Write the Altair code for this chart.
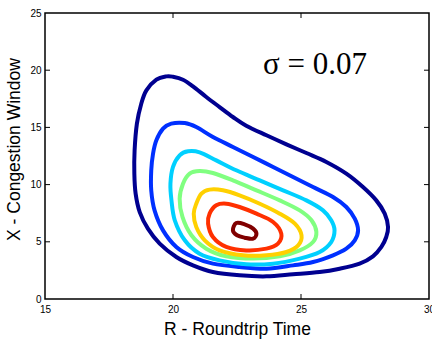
import altair as alt
import pandas as pd

levels = ["L1", "L2", "L3", "L4", "L5", "L6", "L7"]
colors = ["#000090", "#0030FF", "#00D0FF", "#80FF80", "#FFD000", "#FF3000", "#800000"]

c1_x = [19.35, 19.74, 20.0, 20.39, 20.78, 21.30, 21.82, 22.34, 22.86, 23.65, 24.43, 25.21, 25.99, 26.77, 27.42, 27.94, 28.27, 28.40, 28.33, 28.14, 27.81, 27.29, 26.51, 25.73, 24.69, 23.65, 22.60, 21.56, 20.78, 20.13, 19.48, 19.02, 18.70, 18.54, 18.49, 18.50, 18.59, 18.76, 18.96]
c1_y = [19.17, 19.46, 19.43, 19.17, 18.59, 17.66, 16.78, 15.91, 15.15, 14.31, 13.52, 12.76, 11.98, 10.96, 9.79, 8.62, 7.46, 6.29, 5.42, 4.55, 3.73, 3.09, 2.65, 2.36, 2.16, 1.98, 2.07, 2.36, 2.94, 3.67, 4.84, 6.15, 7.60, 9.21, 10.96, 13.0, 15.33, 17.07, 18.24]

c2_x = [19.35, 19.61, 19.93, 20.46, 20.91, 21.56, 22.34, 23.13, 23.91, 24.69, 25.47, 26.25, 26.77, 27.10, 27.23, 27.10, 26.77, 26.25, 25.47, 24.69, 23.65, 22.60, 21.56, 20.78, 20.13, 19.61, 19.28, 19.15, 19.15, 19.22]
c2_y = [13.87, 14.89, 15.33, 15.38, 15.03, 14.16, 13.29, 12.41, 11.54, 10.66, 9.79, 8.92, 8.04, 7.02, 6.0, 5.13, 4.40, 3.82, 3.23, 2.94, 2.65, 2.80, 3.09, 3.67, 4.55, 6.0, 7.75, 9.50, 11.25, 12.70]

c3_x = [20.0, 20.26, 20.59, 21.04, 21.69, 22.47, 23.39, 24.30, 25.21, 25.86, 26.18, 26.31, 26.18, 25.73, 24.95, 23.91, 22.86, 21.82, 21.04, 20.46, 20.07, 19.94, 19.90]
c3_y = [11.54, 12.56, 12.91, 12.82, 12.12, 11.25, 10.37, 9.50, 8.62, 7.75, 6.88, 6.0, 4.98, 4.11, 3.53, 3.09, 3.03, 3.38, 3.96, 5.13, 6.88, 8.62, 10.08]

c4_x = [20.39, 20.65, 21.04, 21.56, 22.34, 23.26, 24.17, 24.95, 25.41, 25.60, 25.47, 24.95, 24.17, 23.13, 22.08, 21.30, 20.72, 20.37, 20.26]
c4_y = [10.08, 10.96, 11.19, 11.01, 10.37, 9.50, 8.62, 7.75, 6.88, 5.86, 4.98, 4.25, 3.73, 3.53, 3.73, 4.40, 5.57, 7.17, 8.77]

c5_x = [20.91, 21.11, 21.43, 21.95, 22.60, 23.39, 24.17, 24.76, 25.02, 24.89, 24.43, 23.65, 22.73, 21.82, 21.24, 20.91, 20.81]
c5_y = [8.33, 9.21, 9.56, 9.50, 9.06, 8.33, 7.46, 6.59, 5.57, 4.69, 4.11, 3.82, 3.82, 4.25, 5.13, 6.29, 7.46]

c6_x = [21.43, 21.69, 22.08, 22.60, 23.26, 23.91, 24.23, 24.10, 23.65, 22.86, 22.08, 21.56, 21.37]
c6_y = [7.46, 8.19, 8.33, 8.04, 7.46, 6.73, 5.71, 4.84, 4.40, 4.25, 4.55, 5.42, 6.59]

c7_x = [22.34, 22.47, 22.80, 23.13, 23.26, 23.13, 22.80, 22.50]
c7_y = [6.0, 6.64, 6.53, 6.15, 5.71, 5.27, 5.36, 5.57]

x_ticks = [15, 20, 25, 30]
y_ticks = [0, 5, 10, 15, 20, 25]

contours = [(c1_x, c1_y), (c2_x, c2_y), (c3_x, c3_y), (c4_x, c4_y),
            (c5_x, c5_y), (c6_x, c6_y), (c7_x, c7_y)]
rows = []
for lev, (xs, ys) in zip(levels, contours):
    for i, (xv, yv) in enumerate(zip(xs, ys)):
        rows.append({"R": xv, "X": yv, "level": lev, "i": i})
df = pd.DataFrame(rows)

W, H = 384, 286

xscale = alt.Scale(domain=[15, 30], nice=False, zero=False)
yscale = alt.Scale(domain=[0, 25], nice=False, zero=False)

lines = alt.Chart(df).mark_line(
    interpolate="cardinal-closed", strokeWidth=4, clip=True
).encode(
    x=alt.X("R:Q", scale=xscale, title="R - Roundtrip Time",
            axis=alt.Axis(values=x_ticks, ticks=False, grid=False, domain=False,
                          labelFontSize=10, labelPadding=5, labelFont="Liberation Sans",
                          labelColor="black", titleFont="Liberation Sans", titleFontSize=17.5,
                          titleFontWeight="normal", titleColor="black", titlePadding=6,
                          labelFlush=False)),
    y=alt.Y("X:Q", scale=yscale, title="X - Congestion Window",
            axis=alt.Axis(values=y_ticks, ticks=False, grid=False, domain=False,
                          labelFontSize=10, labelPadding=4, labelFont="Liberation Sans",
                          labelColor="black", titleFont="Liberation Sans", titleFontSize=17.5,
                          titleFontWeight="normal", titleColor="black", titlePadding=6,
                          labelFlush=False, titleY=136)),
    color=alt.Color("level:N", scale=alt.Scale(domain=levels, range=colors), legend=None),
    order="i:Q",
    detail="level:N",
)

xt = pd.DataFrame({"t": x_ticks[1:-1]})
yt = pd.DataFrame({"t": y_ticks[1:-1]})
tick_len = 5
xb = alt.Chart(xt).mark_rule(color="black", strokeWidth=1).encode(
    x=alt.X("t:Q", scale=xscale), y=alt.value(H), y2=alt.value(H - tick_len))
xtop = alt.Chart(xt).mark_rule(color="black", strokeWidth=1).encode(
    x=alt.X("t:Q", scale=xscale), y=alt.value(0), y2=alt.value(tick_len))
yl = alt.Chart(yt).mark_rule(color="black", strokeWidth=1).encode(
    y=alt.Y("t:Q", scale=yscale), x=alt.value(0), x2=alt.value(tick_len))
yr = alt.Chart(yt).mark_rule(color="black", strokeWidth=1).encode(
    y=alt.Y("t:Q", scale=yscale), x=alt.value(W), x2=alt.value(W - tick_len))

label_df = pd.DataFrame({"R": [25.55], "X": [20.45], "txt": ["σ = 0.07"]})
label = alt.Chart(label_df).mark_text(
    font="Liberation Serif", fontSize=31, color="black", align="center", baseline="middle"
).encode(x=alt.X("R:Q", scale=xscale), y=alt.Y("X:Q", scale=yscale), text="txt:N")

chart = alt.layer(lines, xb, xtop, yl, yr, label).properties(
    width=W, height=H,
    autosize=alt.AutoSizeParams(type="none"),
    padding={"left": 45, "top": 13, "right": 3, "bottom": 42},
    background="white",
).configure_view(stroke="black", strokeWidth=1.5)

chart.save("out.html", embed_options={"renderer": "svg", "actions": False})
